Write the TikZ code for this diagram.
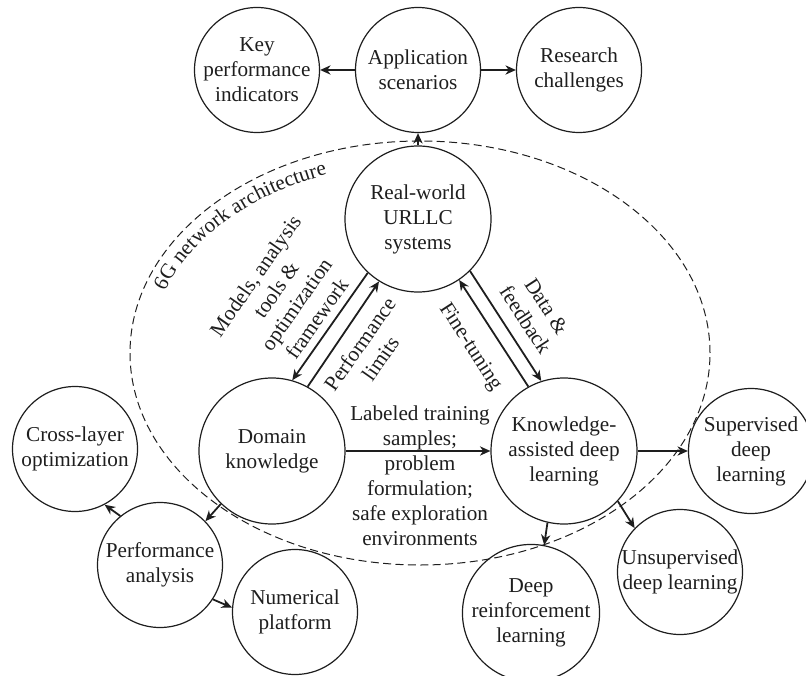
\documentclass[tikz,border=0pt]{standalone}
\usepackage{fontspec}
\setmainfont{Liberation Serif}
\usetikzlibrary{arrows.meta,decorations.text}
\definecolor{ink}{HTML}{1E1E1E}
\begin{document}
\begin{tikzpicture}[x=0.5pt,y=0.5pt,
  font=\fontsize{10.6pt}{12.5pt}\selectfont,
  every node/.style={text=ink},
  topic/.style={circle,draw=ink,line width=0.6pt,inner sep=0pt,minimum size=62.5pt,align=center},
  core/.style={topic,minimum size=73pt},
  flow/.style={draw=ink,-{Stealth[length=5.2pt,width=4.6pt,inset=1.6pt]},line width=0.9pt},
  tag/.style={align=center,inner sep=0pt}]
\fontsize{10.6pt}{12.5pt}\selectfont
\useasboundingbox (0,0) rectangle (806,675);

% boundary of the network architecture
\draw[ink,dashed,dash pattern=on 4pt off 2.2pt,line width=0.5pt]
  (420,322) ellipse [x radius=145pt, y radius=106pt];
\path[decorate,decoration={text along path,text align=center,text color=ink,
  text={6G network architecture}}]
  (152.3,344.9) arc[start angle=173,end angle=101,x radius=134pt,y radius=95pt];

% top row
\node[topic] (key) at (257,605) {Key\\performance\\indicators};
\node[topic] (app) at (418,605) {Application\\scenarios};
\node[topic] (res) at (579,605) {Research\\challenges};

% core triangle
\node[core] (rw) at (418,456) {Real-world\\URLLC\\systems};
\node[core] (dk) at (272,224) {Domain\\knowledge};
\node[core] (ka) at (564,224) {Knowledge-\\assisted deep\\learning};

% outer branches
\node[topic] (cl)  at (75,226)  {Cross-layer\\optimization};
\node[topic] (pa)  at (160,110) {Performance\\analysis};
\node[topic] (np)  at (295,63)  {Numerical\\platform};
\node[topic] (sup) at (751,224) {Supervised\\deep\\learning};
\node[topic] (uns) at (680,103) {Unsupervised\\deep learning};
\node[topic] (drl) at (531,62)  {Deep\\reinforcement\\learning};

% connectors
\draw[flow] (rw.north) -- (app.south);
\draw[flow] (app.west) -- (key.east);
\draw[flow] (app.east) -- (res.west);

\draw[flow] (rw.227) -- (dk.74);
\draw[flow] (dk.61) -- (rw.238);
\draw[flow] (ka.119) -- (rw.304);
\draw[flow] (rw.315) -- (ka.108);
\draw[flow] (dk.east) -- (ka.west);

\draw[flow] (dk.226) -- (pa.44);
\draw[flow] (pa.129) -- (cl.298);
\draw[flow] (pa.327) -- (np.176);

\draw[flow] (ka.east) -- (sup.west);
\draw[flow] (ka.317) -- (uns.136);
\draw[flow] (ka.257) -- (drl.79);

% connector labels
\node[tag,rotate=55] (lmod) at (286,378) {Models, analysis\\tools \&\\optimization\\framework};
\node[tag,rotate=55] (lperf) at (370,324) {Performance\\limits};
\node[tag,rotate=-57] (lfine) at (470,328) {Fine-tuning};
\node[tag,rotate=-57] (ldata) at (536,362) {Data \&\\feedback};
\node[tag] (llab) at (420,199) {Labeled training\\samples;\\problem\\formulation;\\safe exploration\\environments};
\end{tikzpicture}
\end{document}
